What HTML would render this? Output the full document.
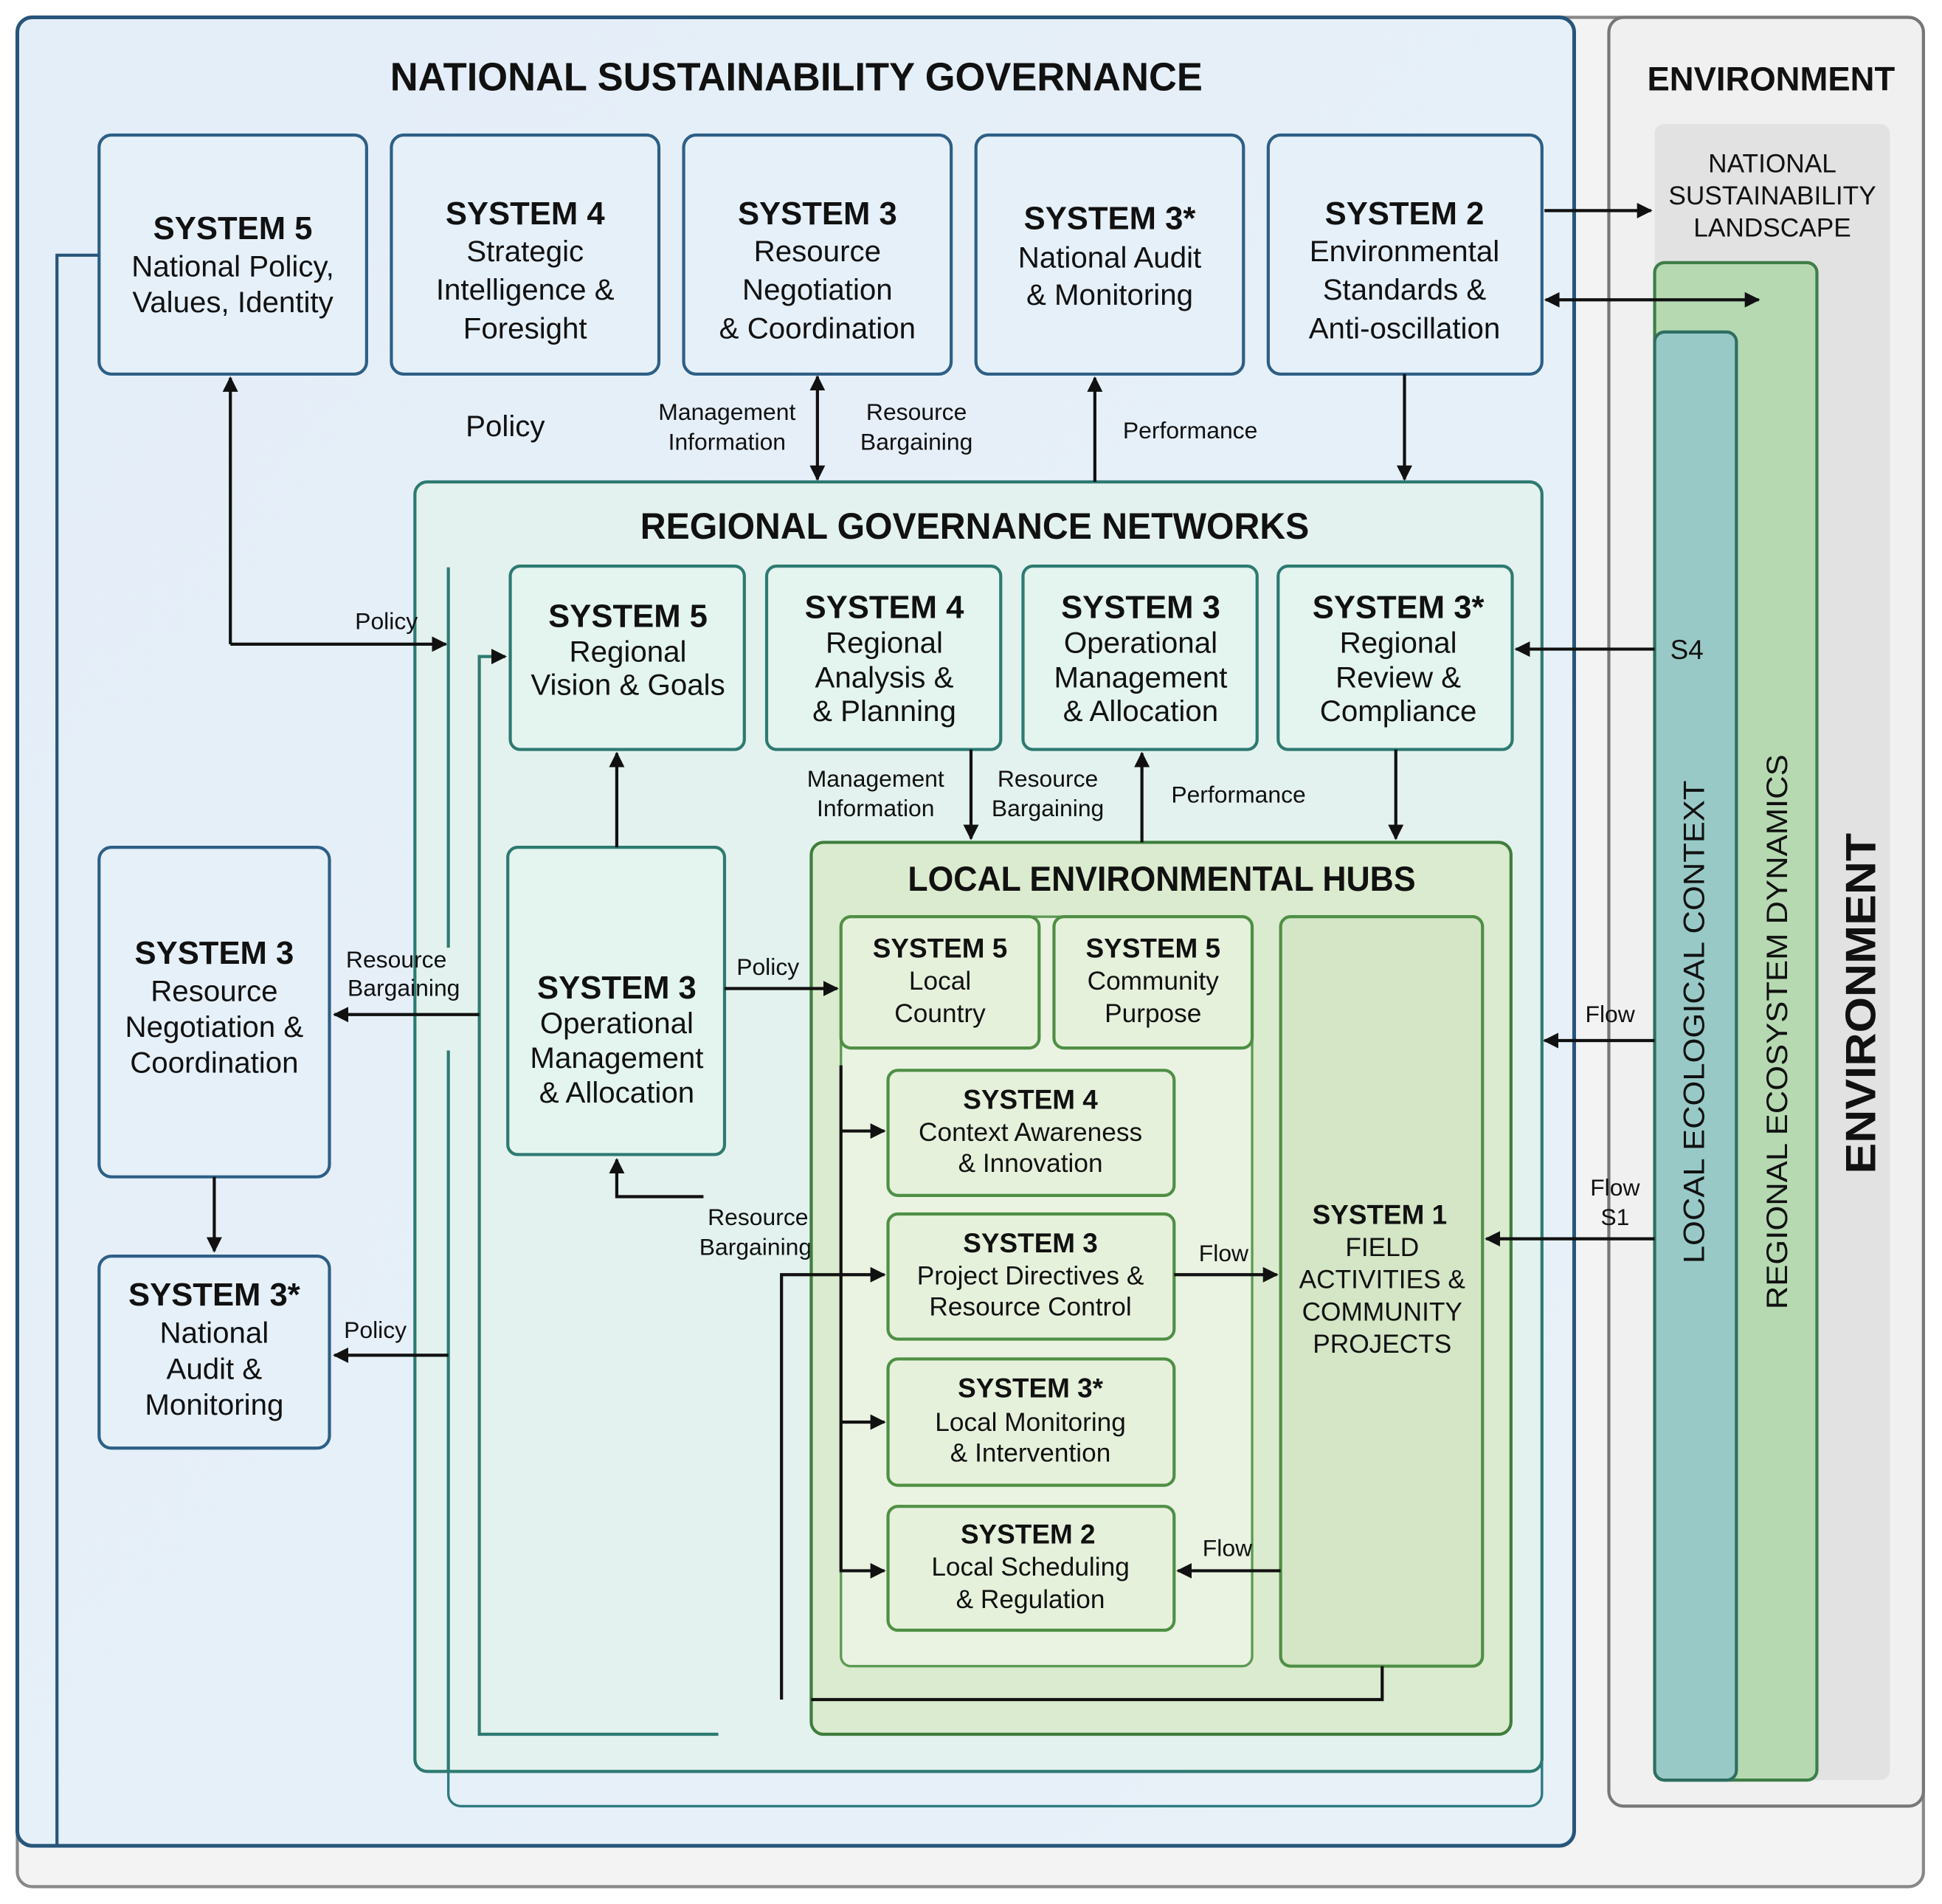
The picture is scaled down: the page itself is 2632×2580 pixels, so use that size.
<!DOCTYPE html>
<html><head><meta charset="utf-8"><style>
html,body{margin:0;padding:0;background:#fff;}
svg{display:block;}
text{font-family:"Liberation Sans",sans-serif;fill:#111;text-anchor:middle;}
.t{font-weight:bold;font-size:26px;}
.b{font-size:24px;}
.s{font-size:19px;}
.lt{font-weight:bold;font-size:22px;}
.lb{font-size:21px;}
.ln{stroke:#111;stroke-width:2.5;fill:none;}
</style></head><body>
<svg width="2632" height="2580" viewBox="0 0 1568 1537" preserveAspectRatio="none" xmlns="http://www.w3.org/2000/svg">
<defs>
<marker id="a" viewBox="0 0 10 10" refX="9" refY="5" markerWidth="5" markerHeight="5" orient="auto-start-reverse"><path d="M0,0L10,5L0,10z" fill="#111"/></marker>
<linearGradient id="gb" x1="0" y1="0" x2="1" y2="1"><stop offset="0" stop-color="#e4eef8"/><stop offset="1" stop-color="#e8f1f8"/></linearGradient>
</defs>
<rect x="14" y="14" width="1539" height="1509" rx="12" fill="#f3f3f3" stroke="#888" stroke-width="2.5"/>
<rect x="1299" y="14" width="254" height="1444" rx="12" fill="#f0f0f0" stroke="#777" stroke-width="2.5"/>
<rect x="1336" y="100" width="190" height="1337" rx="8" fill="#e2e2e2"/>
<text x="1430" y="73" style="font-weight:bold;font-size:27px" textLength="200" lengthAdjust="spacingAndGlyphs">ENVIRONMENT</text>
<text x="1431" y="139" class="lb">NATIONAL</text>
<text x="1431" y="165" class="lb">SUSTAINABILITY</text>
<text x="1431" y="191" class="lb">LANDSCAPE</text>
<rect x="1336" y="212" width="131" height="1225" rx="8" fill="#b6d9b2" stroke="#3f7e49" stroke-width="2.5"/>
<rect x="1336" y="268" width="66" height="1169" rx="8" fill="#98c9c6" stroke="#2f6e62" stroke-width="2.5"/>
<text transform="translate(1376,825) rotate(-90)" style="font-size:24px" textLength="390" lengthAdjust="spacingAndGlyphs">LOCAL ECOLOGICAL CONTEXT</text>
<text transform="translate(1443,833) rotate(-90)" style="font-size:24px" textLength="448" lengthAdjust="spacingAndGlyphs">REGIONAL ECOSYSTEM DYNAMICS</text>
<text transform="translate(1514,810) rotate(-90)" style="font-weight:bold;font-size:34px" textLength="275" lengthAdjust="spacingAndGlyphs">ENVIRONMENT</text>

<rect x="14" y="14" width="1257" height="1476" rx="12" fill="url(#gb)" stroke="#27557a" stroke-width="3"/>
<text x="643" y="73" style="font-weight:bold;font-size:32px" textLength="656" lengthAdjust="spacingAndGlyphs">NATIONAL SUSTAINABILITY GOVERNANCE</text>
<g fill="#e6f0f9" stroke="#2d5f86" stroke-width="2.5">
<rect x="80" y="109" width="216" height="193" rx="10"/>
<rect x="316" y="109" width="216" height="193" rx="10"/>
<rect x="552" y="109" width="216" height="193" rx="10"/>
<rect x="788" y="109" width="216" height="193" rx="10"/>
<rect x="1024" y="109" width="221" height="193" rx="10"/>
<rect x="80" y="684" width="186" height="266" rx="10"/>
<rect x="80" y="1014" width="186" height="155" rx="10"/>
</g>
<text x="188" y="193" class="t">SYSTEM 5</text><text x="188" y="223" class="b">National Policy,</text><text x="188" y="252" class="b">Values, Identity</text>
<text x="424" y="181" class="t">SYSTEM 4</text><text x="424" y="211" class="b">Strategic</text><text x="424" y="242" class="b">Intelligence &amp;</text><text x="424" y="273" class="b">Foresight</text>
<text x="660" y="181" class="t">SYSTEM 3</text><text x="660" y="211" class="b">Resource</text><text x="660" y="242" class="b">Negotiation</text><text x="660" y="273" class="b">&amp; Coordination</text>
<text x="896" y="185" class="t">SYSTEM 3*</text><text x="896" y="216" class="b">National Audit</text><text x="896" y="246" class="b">&amp; Monitoring</text>
<text x="1134" y="181" class="t">SYSTEM 2</text><text x="1134" y="211" class="b">Environmental</text><text x="1134" y="242" class="b">Standards &amp;</text><text x="1134" y="273" class="b">Anti-oscillation</text>
<text x="173" y="778" class="t">SYSTEM 3</text><text x="173" y="808" class="b">Resource</text><text x="173" y="837" class="b">Negotiation &amp;</text><text x="173" y="866" class="b">Coordination</text>
<text x="173" y="1054" class="t">SYSTEM 3*</text><text x="173" y="1084" class="b">National</text><text x="173" y="1113" class="b">Audit &amp;</text><text x="173" y="1142" class="b">Monitoring</text>

<text x="408" y="352" class="b">Policy</text>
<text x="587" y="339" class="s">Management</text><text x="587" y="363" class="s">Information</text>
<text x="740" y="339" class="s">Resource</text><text x="740" y="363" class="s">Bargaining</text>
<text x="961" y="354" class="s">Performance</text>

<rect x="362" y="420" width="883" height="1038" rx="10" fill="none" stroke="#2d7a80" stroke-width="2"/>
<rect x="335" y="389" width="910" height="1041" rx="10" fill="#e3f2ee" stroke="#2d7a72" stroke-width="2.5"/>
<text x="787" y="435" style="font-weight:bold;font-size:30px" textLength="540" lengthAdjust="spacingAndGlyphs">REGIONAL GOVERNANCE NETWORKS</text>
<line x1="362" y1="458" x2="362" y2="765" stroke="#2d7a72" stroke-width="2.5"/>
<line x1="362" y1="848" x2="362" y2="1430" stroke="#2d7a72" stroke-width="2.5"/>
<path d="M580,1400H387V530H408" class="ln" style="stroke:#2d7a72" marker-end="url(#a)"/>
<g fill="#e4f4ef" stroke="#2d7a72" stroke-width="2.5">
<rect x="412" y="457" width="189" height="148" rx="8"/>
<rect x="619" y="457" width="189" height="148" rx="8"/>
<rect x="826" y="457" width="189" height="148" rx="8"/>
<rect x="1032" y="457" width="189" height="148" rx="8"/>
<rect x="410" y="684" width="175" height="248" rx="8"/>
</g>
<text x="507" y="506" class="t">SYSTEM 5</text><text x="507" y="534" class="b">Regional</text><text x="507" y="561" class="b">Vision &amp; Goals</text>
<text x="714" y="499" class="t">SYSTEM 4</text><text x="714" y="527" class="b">Regional</text><text x="714" y="555" class="b">Analysis &amp;</text><text x="714" y="582" class="b">&amp; Planning</text>
<text x="921" y="499" class="t">SYSTEM 3</text><text x="921" y="527" class="b">Operational</text><text x="921" y="555" class="b">Management</text><text x="921" y="582" class="b">&amp; Allocation</text>
<text x="1129" y="499" class="t">SYSTEM 3*</text><text x="1129" y="527" class="b">Regional</text><text x="1129" y="555" class="b">Review &amp;</text><text x="1129" y="582" class="b">Compliance</text>
<text x="498" y="806" class="t">SYSTEM 3</text><text x="498" y="834" class="b">Operational</text><text x="498" y="862" class="b">Management</text><text x="498" y="890" class="b">&amp; Allocation</text>

<text x="707" y="635" class="s">Management</text><text x="707" y="659" class="s">Information</text>
<text x="846" y="635" class="s">Resource</text><text x="846" y="659" class="s">Bargaining</text>
<text x="1000" y="648" class="s">Performance</text>
<text x="312" y="508" class="s">Policy</text>
<text x="320" y="781" class="s">Resource</text><text x="326" y="804" class="s">Bargaining</text>
<text x="303" y="1080" class="s">Policy</text>
<text x="620" y="787" class="s">Policy</text>
<text x="612" y="989" class="s">Resource</text><text x="610" y="1013" class="s">Bargaining</text>

<rect x="655" y="680" width="565" height="720" rx="10" fill="#dbebcf" stroke="#3f7d3c" stroke-width="2.5"/>
<text x="938" y="719" style="font-weight:bold;font-size:28px" textLength="410" lengthAdjust="spacingAndGlyphs">LOCAL ENVIRONMENTAL HUBS</text>
<rect x="679" y="740" width="332" height="605" rx="8" fill="#eaf3e2" stroke="#5d9a55" stroke-width="2"/>
<g fill="#e6f1dc" stroke="#4f8f45" stroke-width="2.5">
<rect x="679" y="740" width="160" height="106" rx="8"/>
<rect x="851" y="740" width="160" height="106" rx="8"/>
<rect x="717" y="864" width="231" height="101" rx="8"/>
<rect x="717" y="980" width="231" height="101" rx="8"/>
<rect x="717" y="1097" width="231" height="102" rx="8"/>
<rect x="717" y="1216" width="231" height="100" rx="8"/>
</g>
<rect x="1034" y="740" width="163" height="605" rx="8" fill="#d4e6c6" stroke="#4f8f45" stroke-width="2.5"/>
<text x="759" y="773" class="lt">SYSTEM 5</text><text x="759" y="799" class="lb">Local</text><text x="759" y="825" class="lb">Country</text>
<text x="931" y="773" class="lt">SYSTEM 5</text><text x="931" y="799" class="lb">Community</text><text x="931" y="825" class="lb">Purpose</text>
<text x="832" y="895" class="lt">SYSTEM 4</text><text x="832" y="921" class="lb">Context Awareness</text><text x="832" y="946" class="lb">&amp; Innovation</text>
<text x="832" y="1011" class="lt">SYSTEM 3</text><text x="832" y="1037" class="lb">Project Directives &amp;</text><text x="832" y="1062" class="lb">Resource Control</text>
<text x="832" y="1128" class="lt">SYSTEM 3*</text><text x="832" y="1155" class="lb">Local Monitoring</text><text x="832" y="1180" class="lb">&amp; Intervention</text>
<text x="830" y="1246" class="lt">SYSTEM 2</text><text x="832" y="1272" class="lb">Local Scheduling</text><text x="832" y="1298" class="lb">&amp; Regulation</text>
<text x="1114" y="988" class="lt">SYSTEM 1</text><text x="1116" y="1014" class="lb">FIELD</text><text x="1116" y="1040" class="lb">ACTIVITIES &amp;</text><text x="1116" y="1066" class="lb">COMMUNITY</text><text x="1116" y="1092" class="lb">PROJECTS</text>
<text x="988" y="1018" class="s">Flow</text>
<text x="991" y="1256" class="s">Flow</text>
<text x="1300" y="825" class="s">Flow</text>
<text x="1304" y="965" class="s">Flow</text><text x="1304" y="989" class="s">S1</text>
<text x="1362" y="532" class="s" style="font-size:22px">S4</text>

<path d="M80,206H46V1490" class="ln" style="stroke:#27557a"/>
<line x1="186" y1="305" x2="186" y2="520" class="ln" marker-start="url(#a)"/>
<line x1="186" y1="520" x2="360" y2="520" class="ln" marker-end="url(#a)"/>
<line x1="660" y1="304" x2="660" y2="387" class="ln" marker-start="url(#a)" marker-end="url(#a)"/>
<line x1="884" y1="389" x2="884" y2="305" class="ln" marker-end="url(#a)"/>
<line x1="1134" y1="302" x2="1134" y2="387" class="ln" marker-end="url(#a)"/>
<line x1="1247" y1="170" x2="1333" y2="170" class="ln" marker-end="url(#a)"/>
<line x1="1248" y1="242" x2="1420" y2="242" class="ln" marker-start="url(#a)" marker-end="url(#a)"/>
<line x1="1336" y1="524" x2="1224" y2="524" class="ln" marker-end="url(#a)"/>
<line x1="1336" y1="840" x2="1247" y2="840" class="ln" marker-end="url(#a)"/>
<line x1="1336" y1="1000" x2="1200" y2="1000" class="ln" marker-end="url(#a)"/>
<line x1="498" y1="684" x2="498" y2="608" class="ln" marker-end="url(#a)"/>
<line x1="784" y1="605" x2="784" y2="677" class="ln" marker-end="url(#a)"/>
<line x1="922" y1="680" x2="922" y2="608" class="ln" marker-end="url(#a)"/>
<line x1="1127" y1="605" x2="1127" y2="677" class="ln" marker-end="url(#a)"/>
<line x1="387" y1="819" x2="270" y2="819" class="ln" marker-end="url(#a)"/>
<line x1="173" y1="950" x2="173" y2="1010" class="ln" marker-end="url(#a)"/>
<line x1="362" y1="1094" x2="270" y2="1094" class="ln" marker-end="url(#a)"/>
<line x1="585" y1="798" x2="676" y2="798" class="ln" marker-end="url(#a)"/>
<path d="M568,966H498V936" class="ln" marker-end="url(#a)"/>
<path d="M679,860V1268H714" class="ln" marker-end="url(#a)"/>
<line x1="679" y1="913" x2="714" y2="913" class="ln" marker-end="url(#a)"/>
<line x1="679" y1="1148" x2="714" y2="1148" class="ln" marker-end="url(#a)"/>
<path d="M631,1372V1029H714" class="ln" marker-end="url(#a)"/>
<line x1="948" y1="1029" x2="1031" y2="1029" class="ln" marker-end="url(#a)"/>
<line x1="1034" y1="1268" x2="951" y2="1268" class="ln" marker-end="url(#a)"/>
<path d="M1116,1345V1372H655" class="ln"/>
</svg>
</body></html>
